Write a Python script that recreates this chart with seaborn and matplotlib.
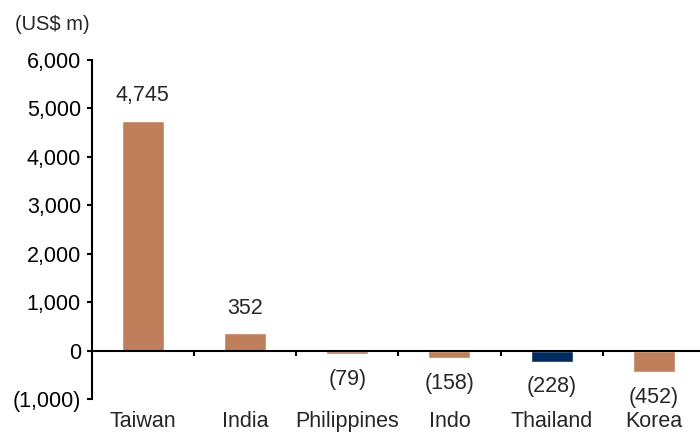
import matplotlib
matplotlib.use("Agg")
import matplotlib.pyplot as plt
import seaborn as sns
from matplotlib.ticker import FuncFormatter, FixedLocator

categories = ["Taiwan", "India", "Philippines", "Indo", "Thailand", "Korea"]
values = [4745, 352, -79, -158, -228, -452]
bar_colors = ["#C07F5B", "#C07F5B", "#C07F5B", "#C07F5B", "#002B60", "#C07F5B"]
y_ticks = [-1000, 0, 1000, 2000, 3000, 4000, 5000, 6000]
unit_label = "(US$ m)"

sns.set_style("white")
plt.rcParams["font.family"] = ["Liberation Sans", "DejaVu Sans"]

FS = 15.5

fig = plt.figure(figsize=(7, 4.32), dpi=100)
ax = fig.add_axes([0.131, 0.0764, 0.876, 0.785])

sns.barplot(x=categories, y=values, hue=categories, palette=bar_colors,
            legend=False, width=0.41, ax=ax, saturation=1)

ax.set_xlim(-0.5, len(categories) - 0.5)
ax.set_ylim(-1000, 6000)
ax.set_yticks(y_ticks)

def fmt(v, pos=None):
    v = int(round(v))
    return f"({abs(v):,})" if v < 0 else f"{v:,}"

ax.yaxis.set_major_formatter(FuncFormatter(fmt))
ax.tick_params(axis="y", direction="out", length=3.8, width=1.5, labelsize=FS,
               pad=4, colors="black", left=True)

for s in ["top", "right"]:
    ax.spines[s].set_visible(False)
ax.spines["left"].set_linewidth(1.5)
ax.spines["left"].set_color("black")
ax.spines["bottom"].set_position(("data", 0))
ax.spines["bottom"].set_linewidth(1.5)
ax.spines["bottom"].set_color("black")

ax.set_xticks(range(len(categories)))
ax.set_xticklabels([])
ax.tick_params(axis="x", which="major", length=0)
ax.xaxis.set_minor_locator(FixedLocator([i + 0.5 for i in range(len(categories) - 1)]))
ax.tick_params(axis="x", which="minor", direction="out", length=3.5, width=1.5,
               colors="black", bottom=True)
ax.set_xlabel("")
ax.set_ylabel("")

for i, c in enumerate(categories):
    ax.text(i, -0.082, c, transform=ax.get_xaxis_transform(), ha="center",
            va="baseline", fontsize=FS)

for i, v in enumerate(values):
    off = 18 if v >= 0 else -18
    ax.annotate(fmt(v), xy=(i, v), xytext=(0, off), textcoords="offset points",
                ha="center", va="center", fontsize=FS)

fig.text(15 / 700, 1 - 25 / 432, unit_label, ha="left", va="center", fontsize=14.5)

fig.savefig("out.png", dpi=100)
